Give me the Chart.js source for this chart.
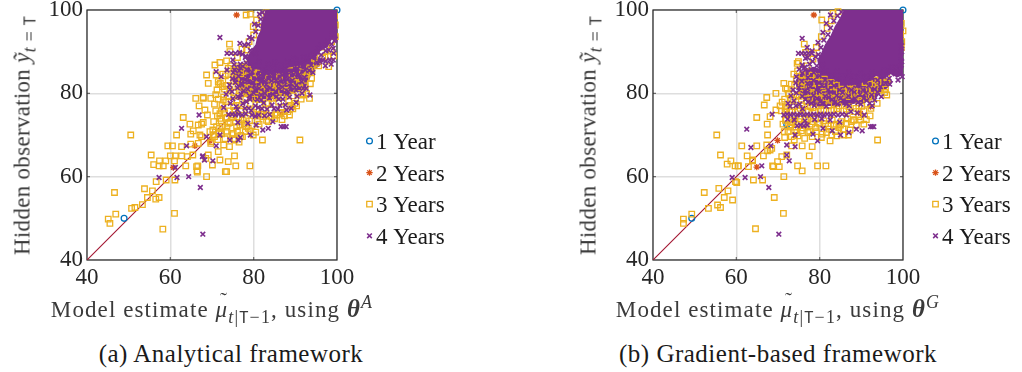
<!DOCTYPE html>
<html>
<head>
<meta charset="utf-8">
<script src="https://cdn.jsdelivr.net/npm/chart.js@4.4.1/dist/chart.umd.min.js"></script>
<style>
  html, body { margin: 0; padding: 0; background: #fff; }
  body { width: 1022px; height: 372px; position: relative; overflow: hidden;
         font-family: 'Liberation Serif', 'Times New Roman', serif; }
  canvas { position: absolute; }
  .lbl { position: absolute; white-space: nowrap; font-size: 23px; line-height: 1; color: #3a3a3a; }
  .xt { text-align: center; letter-spacing: 1.1px; }
  .yt { transform: translate(-50%, -50%) rotate(-90deg); letter-spacing: 0.3px; }
  .cap { text-align: center; color: #1a1a1a; font-size: 25px; letter-spacing: 0.5px; }
  sub, sup { font-size: 0.78em; line-height: 0; letter-spacing: 1.2px; }
  .tt { font-family: 'DejaVu Sans Mono', 'Liberation Mono', monospace; font-style: normal; font-size: 0.85em; }
  .acc { position: relative; display: inline-block; }
  .til { position: absolute; left: 0.22em; top: -0.38em; font-style: normal; font-size: 0.9em; }
  .bth { font-size: 1.08em; }
</style>
</head>
<body>
<canvas id="panelA" width="460" height="310" style="left:0px;top:-10px"></canvas>
<canvas id="panelB" width="456" height="310" style="left:566px;top:-10px"></canvas>

<div class="lbl yt" style="left:22px;top:135px">Hidden observation <i>ỹ</i><sub><i>t</i>&thinsp;=&thinsp;<span class="tt">T</span></sub></div>
<div class="lbl yt" style="left:588px;top:135px">Hidden observation <i>ỹ</i><sub><i>t</i>&thinsp;=&thinsp;<span class="tt">T</span></sub></div>

<div class="lbl xt" style="left:0px;width:424px;top:297px">Model estimate <span class="acc"><i>μ</i><span class="til">˜</span></span><sub><i>t</i>|<span class="tt">T</span>−1</sub>, using <b class="bth"><i>θ</i></b><sup><i>A</i></sup></div>
<div class="lbl xt" style="left:566px;width:424px;top:297px">Model estimate <span class="acc"><i>μ</i><span class="til">˜</span></span><sub><i>t</i>|<span class="tt">T</span>−1</sub>, using <b class="bth"><i>θ</i></b><sup><i>G</i></sup></div>

<div class="lbl cap" style="left:0px;width:462px;top:341px">(a) Analytical framework</div>
<div class="lbl cap" style="left:547px;width:462px;top:341px">(b) Gradient-based framework</div>

<script>
// ---- shared axis / legend values ----
const axisTicks = [40, 60, 80, 100];
const seriesNames = ['1 Year', '2 Years', '3 Years', '4 Years'];
const identityLine = [[40, 40], [100, 100]];

// ---- (a) analytical framework ----
const oneYearA = [[48.9,50.0],[100,100]];
const twoYearsA = [[75.9,98.8],[69.5,68.6],[60.7,62.2],[65.9,67.4],[92.1,81.4],[89.4,76.7],[86.8,75.0],[93.5,86.4]];
const threeYearsA = [
  [50.5,70.0],[46.6,56.2],[45.1,49.8],[45.5,48.8],[46.9,51.0],[50.7,52.4],[51.5,52.6],[53.3,53.3],[53.8,57.1],[54.5,55.0],
  [55.7,56.6],[56.5,54.6],[57.3,55.0],[56.6,58.8],[55.4,65.2],[56.0,62.9],[58.2,47.4],[59.0,59.2],[61.0,51.2],[61.1,59.2],
  [59.4,67.4],[60.5,67.4],[57.4,63.8],[58.9,63.8],[60.0,65.0],[61.0,63.8],[61.2,65.0],[63.1,74.2],[61.5,70.0],[62.7,67.2],
  [62.7,65.0],[63.7,62.6],[64.1,64.8],[64.9,67.8],[64.9,70.2],[65.4,65.2],[66.7,68.0],[66.6,62.6],[66.5,61.1],[67.1,70.0],
  [67.5,72.6],[68.7,60.0],[68.5,64.4],[69.1,65.2],[69.7,68.0],[69.5,70.8],[70.1,62.8],[68.9,74.8],[68.3,76.0],[66.9,77.0],
  [66.1,78.8],[67.9,78.8],[68.7,84.4],[69.1,82.4],[69.7,78.8],[70.7,86.8],[71.0,84.4],[71.9,87.4],[73.5,87.8],[74.2,91.8],
  [71.5,82.8],[72.5,81.6],[71.5,66.0],[71.9,64.0],[73.2,61.2],[73.5,61.2],[73.9,63.6],[75.7,62.6],[75.4,65.0],[74.2,67.2],
  [75.5,68.8],[78.2,98.8],[79.1,62.6],[79.9,70.0],[82.1,68.8],[91.1,68.8],[93.4,78.8],[88.6,74.8],[89.9,77.6],[93.9,83.6],
  [93.5,85.2],[97.9,88.8],[98.7,92.4],[99.1,95.0],[98.3,95.2],[85.1,74.8],[82.3,74.4],[81.1,74.8],[79.1,71.0],[78.3,72.0],
  [76.7,72.4],[75.1,70.4],[75.1,74.8],[73.5,74.0],[71.9,74.0],[71.1,72.0],[83.1,77.6],[78.7,80.4],[75.8,83.2],[74.3,81.0],
  [72.7,78.4],[78.3,90.4],[79.9,96.0],[80.7,97.6],[74.3,90.0],[75.5,85.6],[57.3,62.6],[58.3,62.6],[64.7,72.6],[65.5,71.0],
  [66.7,72.4],[67.9,73.0],[67.5,69.6],[66.3,62.4],[67.9,79.0],[83.5,73.2],[66.4,61.4]
];
const threeYearsCloudA = [
  [69.8,68.4],[70.6,69.6],[71.4,68.9],[72.3,70.3],[73.1,69.1],[70.2,71.2],[71.8,71.6],[73.6,71.9],[74.8,70.1],[76.1,70.9],
  [77.3,69.6],[78.0,70.8],[72.8,67.6],[76.5,68.3],[70.4,73.2],[71.3,74.6],[72.2,73.4],[73.0,75.3],[73.9,72.8],[74.7,74.2],
  [75.6,73.1],[76.4,74.3],[77.3,73.6],[78.2,74.0],[79.0,73.4],[80.0,75.4],[80.9,73.2],[81.9,75.0],[83.0,74.8],[84.2,74.4],
  [85.6,74.8],[86.5,75.4],[87.4,74.6],[70.9,75.8],[72.6,76.2],[74.2,75.8],[70.6,77.4],[71.5,78.6],[72.4,77.2],[73.3,78.0],
  [74.1,79.2],[75.2,76.8],[76.0,78.4],[77.1,77.0],[78.1,78.8],[79.2,77.6],[80.3,78.6],[81.4,77.2],[82.5,79.0],[83.5,77.6],
  [84.8,78.8],[86.0,77.9],[87.2,79.2],[88.4,78.1],[89.5,79.4],[90.6,80.0],[91.4,78.6],[71.2,80.8],[72.0,82.4],[73.0,81.0],
  [73.9,83.2],[74.9,81.6],[75.8,82.9],[76.9,80.6],[77.8,82.2],[79.0,81.4],[80.1,83.6],[81.2,82.0],[82.3,80.8],[83.3,82.6],
  [84.5,81.0],[85.6,82.4],[86.7,80.6],[87.9,82.0],[89.0,80.9],[90.1,82.6],[91.3,83.6],[92.4,81.8],[72.6,84.6],[73.9,86.0],
  [75.0,84.8],[76.3,86.4],[77.4,85.2],[78.6,87.0],[80.0,85.8],[85.4,86.2],[88.6,86.8],[90.4,87.2],[92.8,84.6],[94.0,85.6],
  [95.6,86.6],[76.1,88.6],[77.2,90.6],[78.9,92.4],[80.0,94.0],[81.2,95.8],[79.2,99.0],[81.8,98.6],[83.0,99.3],[96.4,89.8],
  [97.4,92.0],[99.6,96.4],[99.6,93.6],[99.2,89.0],[98.0,86.4],[94.6,88.4],[93.2,89.9],
  [70.3,70.1],[71.7,70.6],[73.4,70.9],[75.2,69.1],[76.9,69.9],[78.7,71.6],[80.5,70.7],[72.5,72.1],[74.3,73.0],[75.9,72.0],
  [77.7,72.7],[79.6,72.2],[81.3,72.6],[83.1,73.5],[85.0,73.9],[86.8,73.7],[88.2,75.6],[89.4,76.3],[90.3,77.0],[71.9,75.1],
  [73.6,74.3],[75.5,75.9],[77.0,76.1],[78.9,75.9],[80.7,76.2],[82.4,75.9],[84.2,76.0],[86.7,76.6],[88.9,77.1],[91.8,79.6],
  [92.7,79.9],[70.9,79.7],[72.8,79.1],[74.6,78.1],[76.4,79.3],[78.3,79.9],[80.9,79.3],[83.9,79.6],[85.4,79.0],[88.0,79.9],
  [90.9,81.3],[93.6,82.3],[71.6,82.1],[73.5,81.9],[75.2,80.2],[77.3,81.5],[79.5,80.5],[81.9,81.0],[84.1,82.0],[86.1,81.6],
  [88.6,82.9],[91.0,82.4],[73.2,84.2],[75.3,83.9],[76.9,84.7],[78.7,84.2],[81.0,84.9],[83.6,83.7],[86.2,84.0],[89.2,84.3],
  [91.7,85.2],[93.4,86.1],[74.5,86.6],[77.8,86.3],[80.8,87.0],[83.7,86.5],[87.3,87.3],[90.9,88.2],[95.0,87.2],[97.1,88.7],
  [98.6,90.3],[99.4,98.6],[97.5,96.9],[95.9,95.0]
];
const fourYearsA = [
  [67.8,46.2],[67.2,57.4],[64.4,60.0],[57.3,59.8],[61.6,59.8],[61.2,62.2],[67.8,65.0],[68.2,64.0],[62.7,71.6],[66.9,74.8],
  [68.7,69.6],[71.0,67.4],[71.9,70.0],[74.3,68.8],[76.3,68.8],[63.9,67.4],[70.2,63.8],[67.7,64.8],[71.9,93.4],[76.7,92.0],
  [71.0,85.2],[79.1,78.6],[83.5,71.6],[91.9,81.2],[93.5,79.6],[99.1,90.8],[99.1,88.0],[98.3,88.0],[95.9,87.6],
  [74.0,74.9],[74.8,75.0],[75.6,74.8],[76.4,75.0],[77.2,74.8],[78.1,75.1],[79.6,74.8],[80.4,74.5],[81.2,74.8],[82.6,74.6],
  [83.8,74.9],[86.6,72.0],[87.2,72.0],[87.8,72.0],[76.2,73.0],[78.6,72.8],[80.6,72.4],[82.2,71.2],[84.6,73.2],[85.8,76.2],
  [79.2,70.0],[76.8,69.4],[72.8,76.6],[74.4,77.6],[75.8,76.8],[77.4,77.6],[78.8,76.4],[80.4,77.0],[81.8,78.4],[83.2,76.2],
  [84.4,77.2],[86.0,78.6],[87.6,77.2],[89.0,76.4],[90.2,77.8],[73.4,79.8],[74.8,80.4],[76.2,79.2],[77.6,80.6],[79.0,79.4],
  [80.4,80.8],[81.8,79.6],[83.2,81.0],[84.6,79.8],[86.0,81.2],[87.4,80.2],[88.8,81.6],[90.2,80.8],[91.6,80.0],[92.6,81.2],
  [74.2,82.0],[75.6,83.4],[77.0,82.4],[78.4,83.8],[79.8,82.6],[81.2,84.0],[82.6,83.0],[84.0,84.2],[85.4,83.2],[86.8,84.4],
  [88.2,83.4],[89.6,84.6],[91.0,84.0],[92.4,85.6],[93.8,86.8],[95.2,87.4],[96.6,88.0],[75.4,85.6],[76.8,87.0],[78.0,88.6],
  [76.6,89.8],[75.0,88.0],[77.8,91.6],[79.0,93.4],[80.2,96.6],[81.4,99.0],[97.2,86.6],[94.2,85.0],[72.2,84.0],[73.6,85.6],
  [73.6,89.6],[74.6,89.6],[75.6,89.6],[76.6,89.6],[99.4,92.6],[98.0,90.4],[96.2,89.2]
];
const fourYearsCloudA = [
  [75.3,86.9],[76.9,86.1],[78.2,87.3],[79.9,86.7],[81.3,87.6],[83.4,86.9],[85.1,87.5],[86.6,86.8],[88.1,87.6],[89.5,88.3],
  [91.2,87.0],[92.9,88.4],[94.4,89.3],[95.6,90.8],[97.3,90.2],[98.7,91.8],[75.1,85.0],[76.5,85.4],[78.3,85.7],[79.6,85.1],
  [81.9,85.6],[83.1,84.8],[84.7,85.9],[86.2,85.3],[87.6,85.7],[89.0,85.2],[90.5,86.0],[92.1,86.4],[93.3,85.5],[74.9,83.5],
  [76.4,84.1],[77.9,83.2],[79.3,84.5],[80.7,83.4],[82.1,84.7],[83.6,83.5],[84.9,84.1],[86.3,83.0],[87.9,84.3],[89.3,83.1],
  [90.8,84.4],[92.2,83.8],[75.6,82.6],[77.2,82.0],[78.8,82.7],[80.1,81.8],[81.7,82.8],[83.0,82.1],[84.3,83.0],[86.0,82.2],
  [87.5,82.8],[88.9,82.3],[90.3,82.0],[91.5,82.8],[74.3,80.9],[76.1,81.3],[77.0,79.8],[78.6,81.0],[80.0,80.1],[81.3,81.2],
  [82.7,80.0],[84.0,81.3],[85.3,80.4],[86.9,81.5],[88.3,80.4],[89.9,81.4],[75.0,78.7],[76.7,79.0],[78.3,78.0],[80.9,78.5],
  [82.4,77.7],[83.8,78.9],[85.5,79.2],[87.0,78.6],[88.6,79.1],[90.4,79.3],[76.1,76.1],[77.9,76.4],[79.4,75.9],[81.1,76.6],
  [82.0,76.3],[84.9,76.3],[86.3,77.1],[87.9,76.0],[78.1,88.9],[79.2,90.3],[80.4,89.6],[78.7,91.8],[79.6,93.1],[80.5,94.8],
  [81.1,96.3],[81.7,97.8],[82.1,99.4],[77.3,89.4],[99.6,93.0],[98.8,94.2],[99.5,95.4],[97.8,92.4],[96.3,91.6],[95.1,89.9],
  [93.7,88.9],[92.0,88.7],[90.2,87.9],[99.2,89.6],[98.6,87.0],[97.3,87.7]
];
// solid overlap of the 4-year markers near the upper-right corner
const fourYearsCoreA = [
  [83.0,100],[100,100],[100,93.6],[98.6,93.0],[97.6,91.2],[96.0,90.4],[94.6,88.6],[92.6,88.0],[90.6,86.8],[88.6,86.4],
  [86.4,85.6],[84.2,85.2],[82.0,85.8],[80.2,86.0],[78.8,87.0],[78.4,88.4],[79.4,90.0],[80.6,91.6],[81.0,93.4],[81.8,95.0],
  [82.0,97.0],[82.6,98.6],[83.0,100]
];
// denser overlap band below it, where 3- and 4-year markers mix
const fourYearsBandA = [
  [75.6,86.4],[77.4,87.2],[79.2,86.6],[81.0,87.4],[83.0,86.6],[85.0,87.2],[87.2,86.8],[89.4,87.8],[91.6,88.2],[93.6,88.8],
  [95.4,88.6],[96.6,87.8],[95.6,86.6],[94.4,85.8],[93.6,84.4],[93.0,82.8],[92.2,81.6],[90.8,80.6],[89.2,80.2],[87.6,79.4],
  [85.8,79.6],[84.0,78.6],[82.2,78.8],[80.4,78.2],[78.6,79.0],[77.2,80.2],[76.2,81.8],[75.4,83.4],[75.0,85.0],[75.6,86.4]
];

// ---- (b) gradient-based framework ----
const oneYearB = [[49.3,50.0],[72.1,72.5],[100,100]];
const twoYearsB = [[78.6,98.8],[69.9,68.7],[64.9,62.3],[92.2,76.8],[89.8,75.2],[94.1,81.4],[95.7,86.0]];
const threeYearsB = [
  [55.3,70.0],[56.2,65.2],[57.8,63.0],[58.7,63.8],[60.4,62.6],[60.1,58.6],[58.0,56.6],[55.8,57.2],[52.3,56.2],[53.3,52.4],
  [55.5,53.2],[56.2,52.6],[57.1,55.0],[59.1,54.4],[49.3,51.0],[47.3,49.8],[47.3,48.8],[64.6,47.5],[71.3,51.2],[69.1,55.0],
  [66.3,59.2],[64.1,59.2],[62.9,62.4],[61.3,67.4],[62.6,65.0],[63.9,63.8],[64.9,67.4],[64.9,74.2],[66.7,77.2],[67.3,79.0],
  [68.1,74.4],[69.5,80.0],[69.5,76.0],[67.4,72.6],[67.5,70.0],[66.5,65.0],[67.5,66.2],[68.5,66.8],[68.7,62.6],[69.9,63.6],
  [71.4,60.0],[70.9,64.8],[72.1,65.2],[73.3,67.4],[73.9,68.8],[74.7,62.6],[75.8,61.4],[75.8,67.4],[77.5,65.0],[79.5,62.6],
  [81.5,62.6],[78.2,67.2],[82.5,68.6],[82.9,70.0],[85.8,70.0],[86.9,70.0],[87.3,71.2],[88.1,73.6],[92.1,74.6],[93.9,68.8],
  [93.8,77.6],[95.8,81.0],[96.1,79.6],[96.1,83.8],[99.7,92.4],[100,95.0],[80.5,97.6],[84.9,95.6],[76.3,91.8],[76.6,89.8],
  [74.9,87.6],[74.7,85.4],[71.4,82.4],[71.8,81.2],[59.8,58.8],[70.5,77.0],[67.3,67.6],[68.1,66.4],[63.9,64.0],[70.3,62.4],
  [68.9,62.4],[60.5,62.6],[59.7,62.6],[71.7,75.8],[72.5,80.0],[74.6,87.2],[75.8,84.4],[78.5,89.6]
];
const threeYearsCloudB = [
  [71.6,69.4],[72.4,70.8],[73.2,69.6],[74.0,71.2],[74.8,69.8],[75.6,71.0],[76.4,69.2],[77.2,70.6],[78.2,69.6],[79.2,70.8],
  [80.4,69.4],[81.6,70.6],[83.8,70.8],[84.6,71.8],[85.6,71.4],[71.2,72.6],[72.0,73.8],[72.9,72.4],[73.8,73.6],[74.6,72.6],
  [75.4,73.8],[76.3,72.4],[77.2,73.6],[78.1,72.6],[79.0,73.8],[80.0,72.6],[81.0,73.4],[82.0,72.2],[83.0,73.6],[84.0,72.6],
  [85.2,73.2],[86.4,72.8],[87.6,73.2],[88.8,72.4],[89.8,73.6],[90.6,72.6],[70.8,75.8],[71.8,76.8],[72.8,75.6],[73.8,76.8],
  [74.8,75.8],[75.8,77.0],[76.8,75.8],[77.8,76.8],[78.8,75.6],[79.8,77.0],[81.0,75.8],[82.2,77.0],[83.4,76.0],[84.6,77.0],
  [85.8,75.8],[87.0,76.8],[88.2,75.6],[89.4,77.0],[90.6,75.8],[91.4,77.4],[71.6,78.6],[72.6,79.8],[73.6,78.4],[74.6,79.6],
  [75.6,78.6],[76.6,80.0],[77.6,78.8],[78.6,80.2],[79.8,78.8],[81.0,80.0],[82.2,78.6],[83.4,80.2],[84.6,79.0],[85.8,80.4],
  [87.0,79.2],[88.2,80.6],[89.4,79.2],[90.6,80.6],[91.8,79.4],[92.8,80.8],[73.2,82.2],[74.4,83.4],[75.6,82.0],[76.8,83.6],
  [78.0,82.4],[79.2,84.0],[80.4,82.6],[84.0,82.0],[88.0,81.4],[92.0,82.2],[94.0,82.6],[95.6,80.2],[77.0,86.6],[78.4,88.2],
  [79.2,91.0],[80.4,93.6],[81.8,95.6],[82.8,97.4],[83.2,99.2],[84.4,99.6],[99.6,96.8],[99.4,94.2],[99.6,91.0],[98.4,88.6],
  [97.6,85.6],
  [71.5,70.8],[73.0,71.9],[74.5,70.6],[76.0,71.7],[77.6,70.9],[79.0,71.8],[80.6,70.2],[82.3,71.4],[84.1,69.8],[71.8,73.5],
  [73.4,73.0],[75.0,73.2],[76.6,73.9],[78.3,73.2],[79.7,72.9],[81.4,72.7],[83.4,72.3],[85.0,72.4],[86.7,73.9],[88.2,73.6],
  [89.4,74.4],[91.2,73.7],[72.1,76.3],[73.3,75.9],[75.3,76.4],[77.3,75.6],[78.4,76.5],[80.3,76.1],[82.8,75.9],[84.1,76.3],
  [86.4,76.2],[88.7,76.4],[90.1,76.9],[92.3,76.4],[71.0,77.9],[73.1,78.8],[75.1,79.3],[76.9,78.0],[79.3,79.9],[81.5,78.9],
  [83.9,78.6],[85.2,79.6],[87.6,79.8],[89.9,78.3],[92.4,79.1],[72.2,81.0],[74.0,81.9],[76.1,81.4],[78.3,81.2],[80.9,80.5],
  [82.7,81.6],[85.5,81.0],[87.2,82.3],[89.7,80.4],[92.6,80.9],[94.6,80.8],[73.8,84.6],[76.1,83.0],[78.2,84.4],[81.1,83.4],
  [82.9,82.6],[86.6,83.1],[90.9,82.6],[93.3,83.2],[96.2,82.8]
];
const fourYearsB = [
  [70.2,46.2],[67.8,57.4],[65.8,60.0],[62.1,59.8],[59.0,59.8],[66.1,62.6],[63.5,67.0],[62.5,71.4],[68.6,75.0],[72.7,63.8],
  [72.1,65.2],[68.3,67.4],[74.1,70.0],[79.5,68.6],[92.2,72.0],[92.6,72.0],[93.0,72.0],[99.7,87.6],[99.7,90.0],[75.8,93.2],
  [74.1,67.2],[72.1,67.6],[74.9,89.6],[75.7,89.6],[76.5,89.6],[77.3,89.6],[78.1,89.6],
  [71.4,74.8],[72.2,75.0],[73.0,74.8],[73.8,75.0],[74.6,74.8],[75.4,75.0],[76.2,74.8],[77.0,75.0],[77.8,74.8],[78.6,75.0],
  [79.4,74.8],[80.2,75.0],[81.0,74.8],[81.8,75.0],[82.6,74.8],[83.4,75.0],[84.4,74.8],[85.4,75.0],[86.4,74.8],
  [74.6,72.2],[75.4,72.4],[76.2,72.2],[77.0,72.4],[78.4,70.2],[80.8,71.6],[83.0,71.0],[85.0,70.0],[87.0,70.6],[88.8,71.4],
  [90.2,71.0],[72.4,77.6],[73.8,78.2],[75.2,77.4],[76.6,78.6],[78.0,77.6],[79.4,78.8],[80.8,77.6],[82.2,79.0],[83.6,77.8],
  [85.0,78.8],[86.4,77.4],[87.8,78.4],[89.2,77.8],[90.6,78.8],[92.0,77.6],[93.2,78.4],[73.6,80.8],[75.0,81.4],[76.4,80.6],
  [77.8,81.6],[79.2,80.8],[80.6,81.8],[82.0,80.8],[83.4,81.8],[84.8,80.8],[86.2,81.8],[87.6,80.8],[89.0,81.8],[90.4,80.8],
  [91.8,81.8],[93.2,81.0],[94.6,81.6],[95.8,82.4],[74.4,84.0],[75.8,84.8],[77.2,83.8],[78.6,85.0],[80.0,84.2],[81.4,85.4],
  [82.8,84.4],[84.2,85.2],[85.6,84.2],[87.0,85.0],[88.4,84.0],[89.8,84.8],[91.2,84.0],[92.6,85.0],[94.0,84.8],[95.4,85.6],
  [96.8,85.4],[98.2,86.2],[75.8,86.8],[76.6,88.4],[77.6,87.0],[78.2,90.2],[79.0,88.8],[79.6,92.2],[80.8,94.6],[81.6,96.8],
  [82.6,98.8],[77.0,91.0],[76.2,86.0],[99.8,84.0],[98.8,83.2],[96.8,82.2],[94.8,79.2]
];
const fourYearsCloudB = [
  [72.9,76.9],[74.3,77.0],[75.9,76.3],[77.2,77.9],[78.7,77.1],[80.1,78.0],[81.6,76.9],[83.0,78.5],[84.3,77.4],[85.7,78.2],
  [87.1,77.0],[88.5,78.7],[89.9,77.4],[91.3,78.3],[92.6,77.0],[73.1,79.4],[74.4,80.1],[75.8,79.3],[77.1,80.3],[78.5,79.5],
  [79.9,80.4],[81.3,79.3],[82.7,80.3],[84.1,79.5],[85.5,80.2],[86.9,79.4],[88.3,80.3],[89.7,79.7],[91.1,80.1],[92.5,79.6],
  [93.9,80.3],[74.3,82.5],[75.7,82.9],[77.1,82.4],[78.5,83.1],[79.9,82.5],[81.3,83.2],[82.7,82.6],[84.1,83.3],[85.5,82.7],
  [86.9,83.5],[88.3,82.8],[89.7,83.4],[91.1,82.7],[92.5,83.6],[93.9,83.1],[95.3,84.1],[96.7,83.6],[98.1,84.7],[99.4,85.6],
  [75.1,85.8],[76.5,86.3],[77.9,85.7],[79.3,86.6],[80.7,86.9],[77.1,88.6],[78.3,87.7],[79.7,89.3],[80.3,91.0],[81.0,92.8],
  [82.0,94.1],[82.6,95.7],[83.4,97.4],[84.3,98.6],[85.2,99.5],[72.3,73.8],[73.9,73.6],[76.5,73.4],[78.8,73.7],[80.5,73.9],
  [82.5,73.6],[84.8,73.1],[87.5,75.6],[89.0,75.3],[90.7,74.8],[99.6,86.8],[98.4,85.2],[97.2,86.3],[99.5,88.8],[99.7,91.4]
];
const fourYearsCoreB = [
  [86.0,100],[100,100],[100,84.6],[98.6,84.0],[97.0,84.8],[95.2,83.6],[93.6,84.4],[91.6,83.0],[89.6,82.6],[87.6,82.0],
  [85.6,82.6],[83.6,83.4],[81.6,84.6],[80.0,86.0],[79.6,88.0],[80.6,89.8],[81.4,91.6],[82.8,93.8],[83.8,96.0],[85.0,98.0],
  [86.0,100]
];
const fourYearsBandB = [
  [75.2,84.6],[76.8,85.8],[78.6,86.2],[80.2,85.6],[82.0,84.6],[84.0,84.0],[86.0,83.2],[88.0,82.8],[90.0,83.0],[92.0,83.4],
  [94.0,83.8],[96.0,83.6],[97.4,82.8],[96.2,81.4],[94.6,80.4],[93.4,79.0],[91.8,78.4],[90.0,78.0],[88.0,77.6],[86.0,77.4],
  [84.0,77.0],[82.0,77.2],[80.0,76.8],[78.2,77.6],[76.6,78.4],[75.4,79.8],[74.6,81.4],[74.4,83.0],[75.2,84.6]
];

// ---- drawing ----
const SERIF = "'Liberation Serif', 'Times New Roman', serif";
const COLORS = { one: '#0072BD', two: '#D95319', three: '#EDB120', four: '#7E2F8E', diag: '#A2142F' };
const toPts = arr => arr.map(([x, y]) => ({ x, y }));

// axes box with short inward tick marks
const framePlugin = {
  id: 'frame',
  beforeDatasetsDraw(chart) {
    const { ctx, chartArea: a, scales: { x, y } } = chart;
    ctx.save();
    ctx.strokeStyle = '#6a6a6a';
    ctx.lineWidth = 1.2;
    axisTicks.slice(1, -1).forEach(v => {
      const px = x.getPixelForValue(v), py = y.getPixelForValue(v);
      ctx.beginPath();
      ctx.moveTo(px, a.bottom); ctx.lineTo(px, a.bottom - 3);
      ctx.moveTo(px, a.top); ctx.lineTo(px, a.top + 3);
      ctx.moveTo(a.left, py); ctx.lineTo(a.left + 3, py);
      ctx.moveTo(a.right, py); ctx.lineTo(a.right - 3, py);
      ctx.stroke();
    });
    ctx.strokeStyle = '#262626';
    ctx.lineWidth = 1.2;
    ctx.strokeRect(a.left, a.top, a.right - a.left, a.bottom - a.top);
    ctx.restore();
  }
};

// legend to the right of the axes
const sideLegend = {
  id: 'sideLegend',
  afterDraw(chart, args, opts) {
    const ctx = chart.ctx;
    ctx.save();
    seriesNames.forEach((name, i) => {
      const ds = chart.data.datasets.find(d => d.label === name);
      const y = opts.top + i * opts.step;
      ctx.strokeStyle = ds.borderColor;
      ctx.fillStyle = 'rgba(0,0,0,0)';
      ctx.lineWidth = ds.borderWidth;
      Chart.helpers.drawPoint(ctx, { pointStyle: ds.pointStyle, radius: ds.pointRadius, borderWidth: ds.borderWidth, rotation: 0 }, opts.markerX, y);
      ctx.fillStyle = '#1a1a1a';
      ctx.font = '23px ' + SERIF;
      ctx.textBaseline = 'alphabetic';
      ctx.fillText(name, opts.textX, y + 8);
    });
    ctx.restore();
  }
};

function makePanel(id, one, two, three, four, core, band, rightPad) {
  const tickFont = { family: SERIF, size: 23 };
  const axis = (fit) => ({
    type: 'linear',
    min: axisTicks[0],
    max: axisTicks[axisTicks.length - 1],
    ticks: { stepSize: 20, color: '#262626', font: tickFont, padding: 4 },
    grid: { color: '#dedede', lineWidth: 1.5, drawTicks: false },
    border: { display: false },
    afterFit: fit
  });
  const area = (data, order) => ({
    label: '4 Years (overlap)', type: 'line', data: toPts(data), borderColor: COLORS.four, borderWidth: 1.5,
    backgroundColor: COLORS.four, fill: 'shape', pointRadius: 0, tension: 0, order
  });
  return new Chart(document.getElementById(id), {
    type: 'scatter',
    data: {
      datasets: [
        { label: seriesNames[3], data: toPts(four), pointStyle: 'crossRot', pointRadius: 3.3,
          borderColor: COLORS.four, backgroundColor: COLORS.four, borderWidth: 1.6, order: 1, clip: false },
        area(core, 2),
        { label: seriesNames[2], data: toPts(three), pointStyle: 'rect', pointRadius: 3.9,
          borderColor: COLORS.three, backgroundColor: 'rgba(0,0,0,0)', borderWidth: 1.3, order: 3, clip: false },
        area(band, 3.5),
        { label: seriesNames[1], data: toPts(two), pointStyle: 'star', pointRadius: 3.2,
          borderColor: COLORS.two, backgroundColor: COLORS.two, borderWidth: 1.3, order: 4, clip: false },
        { label: seriesNames[0], data: toPts(one), pointStyle: 'circle', pointRadius: 2.9,
          borderColor: COLORS.one, backgroundColor: 'rgba(0,0,0,0)', borderWidth: 1.3, order: 5, clip: false },
        { label: 'identity', type: 'line', data: toPts(identityLine), borderColor: COLORS.diag, borderWidth: 1.1,
          pointRadius: 0, fill: false, order: 10 }
      ]
    },
    options: {
      responsive: false,
      animation: false,
      devicePixelRatio: 1,
      layout: { padding: { left: 0, top: 20, right: rightPad, bottom: 0 } },
      scales: {
        x: axis(s => { s.height = 40; }),
        y: axis(s => { s.width = 87; })
      },
      plugins: {
        legend: { display: false },
        tooltip: { enabled: false },
        sideLegend: { markerX: 369.5, textX: 376, top: 151, step: 31.6 }
      }
    },
    plugins: [framePlugin, sideLegend]
  });
}

makePanel('panelA', oneYearA, twoYearsA, threeYearsA.concat(threeYearsCloudA), fourYearsA.concat(fourYearsCloudA),
          fourYearsCoreA, fourYearsBandA, 123);
makePanel('panelB', oneYearB, twoYearsB, threeYearsB.concat(threeYearsCloudB), fourYearsB.concat(fourYearsCloudB),
          fourYearsCoreB, fourYearsBandB, 119);
</script>
</body>
</html>
